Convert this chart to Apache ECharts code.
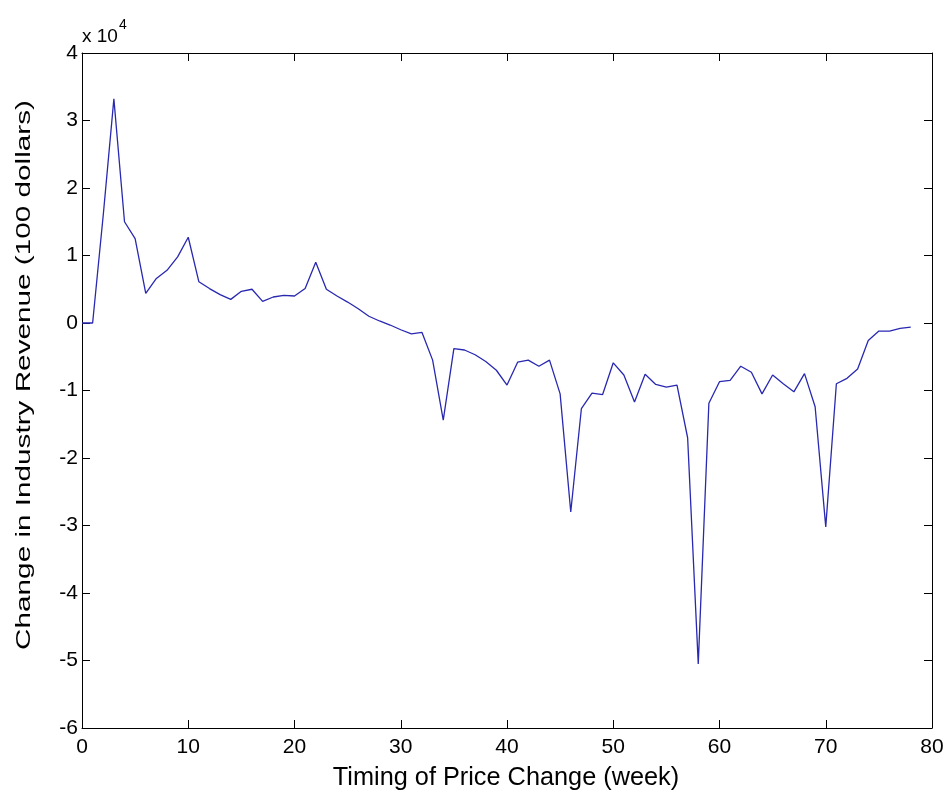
<!DOCTYPE html>
<html><head><meta charset="utf-8">
<script src="https://cdn.jsdelivr.net/npm/echarts@6/dist/echarts.min.js"></script>
<style>html,body{margin:0;padding:0;background:#fff}#c{width:951px;height:805px}</style>
</head><body><div id="c"></div>
<script>
// weeks 0..78
const weeks = Array.from({length: 79}, (_, i) => i);
// Change in industry revenue (100 dollars)
const revenue = [
  0, 0, 16000, 33200, 15000, 12500, 4400, 6600, 7800, 9800,
  12700, 6100, 5100, 4200, 3500, 4700, 5000, 3200, 3850, 4100,
  4000, 5100, 9000, 5000, 4000, 3100, 2100, 1000, 300, -300,
  -1000, -1600, -1400, -5500, -14400, -3800, -4000, -4700, -5700, -7000,
  -9200, -5800, -5500, -6400, -5500, -10500, -28000, -12700, -10400, -10600,
  -5900, -7700, -11700, -7600, -9100, -9500, -9200, -17000, -50500, -11900,
  -8700, -8500, -6400, -7300, -10500, -7700, -9000, -10200, -7500, -12400,
  -30200, -9000, -8200, -6800, -2600, -1200, -1200, -800, -600
];
const xTicks = [0, 10, 20, 30, 40, 50, 60, 70, 80];
const yTicks = [-6, -5, -4, -3, -2, -1, 0, 1, 2, 3, 4];
const xTitle = 'Timing of Price Change (week)';
const yTitle = 'Change in Industry Revenue (100 dollars)';

const font = 'Liberation Sans, Arial, sans-serif';
const chart = echarts.init(document.getElementById('c'));
const axisLine = {show: true, onZero: false, lineStyle: {color: '#000', width: 1}};
const tick = {show: true, inside: true, length: 8, lineStyle: {color: '#000'}};
chart.setOption({
  animation: false,
  backgroundColor: '#fff',
  grid: {left: 82, right: 19, top: 53, bottom: 77, containLabel: false},
  xAxis: [{
    type: 'value', min: xTicks[0], max: xTicks[xTicks.length-1], interval: 10,
    axisLine, axisTick: tick, splitLine: {show: false},
    axisLabel: {color: '#000', fontFamily: font, fontSize: 21, margin: 9}
  }, {
    type: 'value', position: 'top', min: 0, max: 80, interval: 10,
    axisLine, axisTick: tick, axisLabel: {show: false}, splitLine: {show: false}
  }],
  yAxis: [{
    type: 'value', min: yTicks[0]*1e4, max: yTicks[yTicks.length-1]*1e4, interval: 1e4,
    axisLine, axisTick: tick, splitLine: {show: false},
    axisLabel: {color: '#000', fontFamily: font, fontSize: 21, margin: 4, formatter: v => String(Math.round(v/1e4))}
  }, {
    type: 'value', position: 'right', min: -6e4, max: 4e4, interval: 1e4,
    axisLine, axisTick: tick, axisLabel: {show: false}, splitLine: {show: false}
  }],
  graphic: [{
    type: 'text', left: 82, top: 18,
    style: {
      text: '{a|x 10}{b|4}', fill: '#000',
      rich: {
        a: {fontFamily: font, fontSize: 19, verticalAlign: 'bottom', lineHeight: 28},
        b: {fontFamily: font, fontSize: 14, verticalAlign: 'top', lineHeight: 28, padding: [0,0,12,1]}
      }
    }
  }, {
    type: 'text', x: 506, y: 778, scaleX: 1.1, scaleY: 1.1,
    style: {text: xTitle, fill: '#000', fontFamily: font, fontSize: 23, align: 'center', verticalAlign: 'middle'}
  }, {
    type: 'text', x: 24, y: 375, rotation: Math.PI/2, scaleX: 1.35, scaleY: 0.95,
    style: {text: yTitle, fill: '#000', fontFamily: font, fontSize: 22, align: 'center', verticalAlign: 'middle'}
  }],
  series: [{
    type: 'line', xAxisIndex: 0, yAxisIndex: 0,
    data: weeks.map((w, i) => [w, revenue[i]]),
    showSymbol: false, symbol: 'none',
    lineStyle: {color: '#2828b0', width: 1.3},
    silent: true
  }]
});
</script></body></html>
